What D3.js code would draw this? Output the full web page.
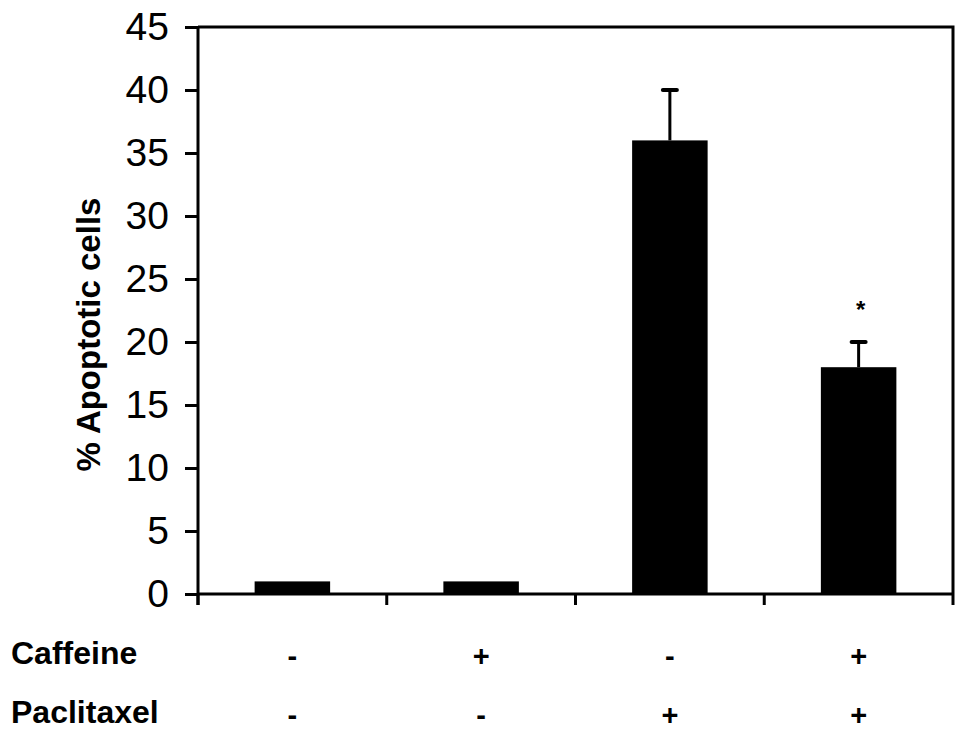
<!DOCTYPE html>
<html>
<head>
<meta charset="utf-8">
<script src="https://cdn.jsdelivr.net/npm/d3@7"></script>
<style>
  html, body { margin: 0; padding: 0; background: #fff; }
  svg { display: block; }
  text { font-family: "Liberation Sans", Arial, Helvetica, sans-serif; fill: #000; }
</style>
</head>
<body>
<svg id="chart" width="969" height="737"></svg>
<script>
// ---- data ----
const categories = ["ctrl", "caf", "pac", "cafpac"];
const values = [1, 1, 36, 18];
const errors = [0, 0, 4, 2];
const significance = ["", "", "", "*"];
const caffeineSigns = ["-", "+", "-", "+"];
const paclitaxelSigns = ["-", "-", "+", "+"];
const yTicks = [0, 5, 10, 15, 20, 25, 30, 35, 40, 45];
const yLabel = "% Apoptotic cells";
const rowLabels = ["Caffeine", "Paclitaxel"];

const svg = d3.select("#chart");
const mLeft = 198, mRight = 953, mTop = 27, mBottom = 594;

const x = d3.scaleBand().domain(categories).range([mLeft, mRight]).paddingInner(0.6).paddingOuter(0.3);
const y = d3.scaleLinear().domain([0, 45]).range([mBottom, mTop]);

// frame (top and right)
svg.append("path")
  .attr("d", `M${mLeft},${y(45)}H${mRight}V${y(0)}`)
  .attr("fill", "none").attr("stroke", "#000").attr("stroke-width", 3);

// y axis
const yAxis = svg.append("g").attr("transform", `translate(${mLeft},0)`)
  .call(d3.axisLeft(y).tickValues(yTicks).tickSize(13).tickPadding(16).tickSizeOuter(0));
yAxis.select(".domain").attr("stroke-width", 3).attr("d", `M0,${y(45)}V${y(0) + 11}`);
yAxis.selectAll(".tick line").attr("stroke-width", 3);
yAxis.selectAll(".tick text").attr("font-size", 39).attr("fill", "#000")
  .attr("font-family", "'Liberation Sans', Arial, sans-serif");

// x axis line with ticks at band boundaries
const gap = (x.step() - x.bandwidth()) / 2;
const boundaries = categories.map(c => x(c) - gap).concat([x(categories[categories.length - 1]) + x.bandwidth() + gap]);
svg.append("line").attr("x1", mLeft).attr("x2", mRight).attr("y1", y(0)).attr("y2", y(0))
  .attr("stroke", "#000").attr("stroke-width", 3);
svg.selectAll(".xtick").data(boundaries).enter().append("line")
  .attr("x1", d => d).attr("x2", d => d).attr("y1", y(0)).attr("y2", y(0) + 11)
  .attr("stroke", "#000").attr("stroke-width", 3);

// bars
svg.selectAll(".bar").data(values).enter().append("rect")
  .attr("x", (d, i) => x(categories[i]))
  .attr("y", d => y(d))
  .attr("width", x.bandwidth())
  .attr("height", d => y(0) - y(d))
  .attr("fill", "#000");

// error bars
const eb = categories.map((c, i) => ({c, v: values[i], e: errors[i]})).filter(d => d.e > 0);
svg.selectAll(".err").data(eb).enter().append("line")
  .attr("x1", d => x(d.c) + x.bandwidth() / 2).attr("x2", d => x(d.c) + x.bandwidth() / 2)
  .attr("y1", d => y(d.v)).attr("y2", d => y(d.v + d.e))
  .attr("stroke", "#000").attr("stroke-width", 3);
svg.selectAll(".cap").data(eb).enter().append("line")
  .attr("x1", d => x(d.c) + x.bandwidth() / 2 - 7).attr("x2", d => x(d.c) + x.bandwidth() / 2 + 7)
  .attr("y1", d => y(d.v + d.e)).attr("y2", d => y(d.v + d.e))
  .attr("stroke", "#000").attr("stroke-width", 4).attr("stroke-linecap", "round");

// significance
svg.selectAll(".sig").data(categories).enter().append("text")
  .attr("x", c => x(c) + x.bandwidth() / 2 + 2)
  .attr("y", (c, i) => y(values[i] + errors[i]) - 24)
  .attr("text-anchor", "middle").attr("font-size", 24).attr("font-weight", "bold")
  .text((c, i) => significance[i]);

// y label
svg.append("text")
  .attr("transform", `translate(100,${(199 + 470) / 2}) rotate(-90)`)
  .attr("text-anchor", "middle").attr("font-size", 33).attr("font-weight", "bold")
  .text(yLabel);

// condition rows
const rows = [caffeineSigns, paclitaxelSigns];
const rowBase = [664, 723];
rows.forEach((signs, r) => {
  svg.append("text").attr("x", 11).attr("y", rowBase[r])
    .attr("font-size", 32).attr("font-weight", "bold").text(rowLabels[r]);
  svg.selectAll(".sign" + r).data(signs).enter().append("text")
    .attr("x", (d, i) => x(categories[i]) + x.bandwidth() / 2)
    .attr("y", rowBase[r] + 2)
    .attr("text-anchor", "middle").attr("font-size", 29).attr("font-weight", "bold")
    .text(d => d);
});
</script>
</body>
</html>
